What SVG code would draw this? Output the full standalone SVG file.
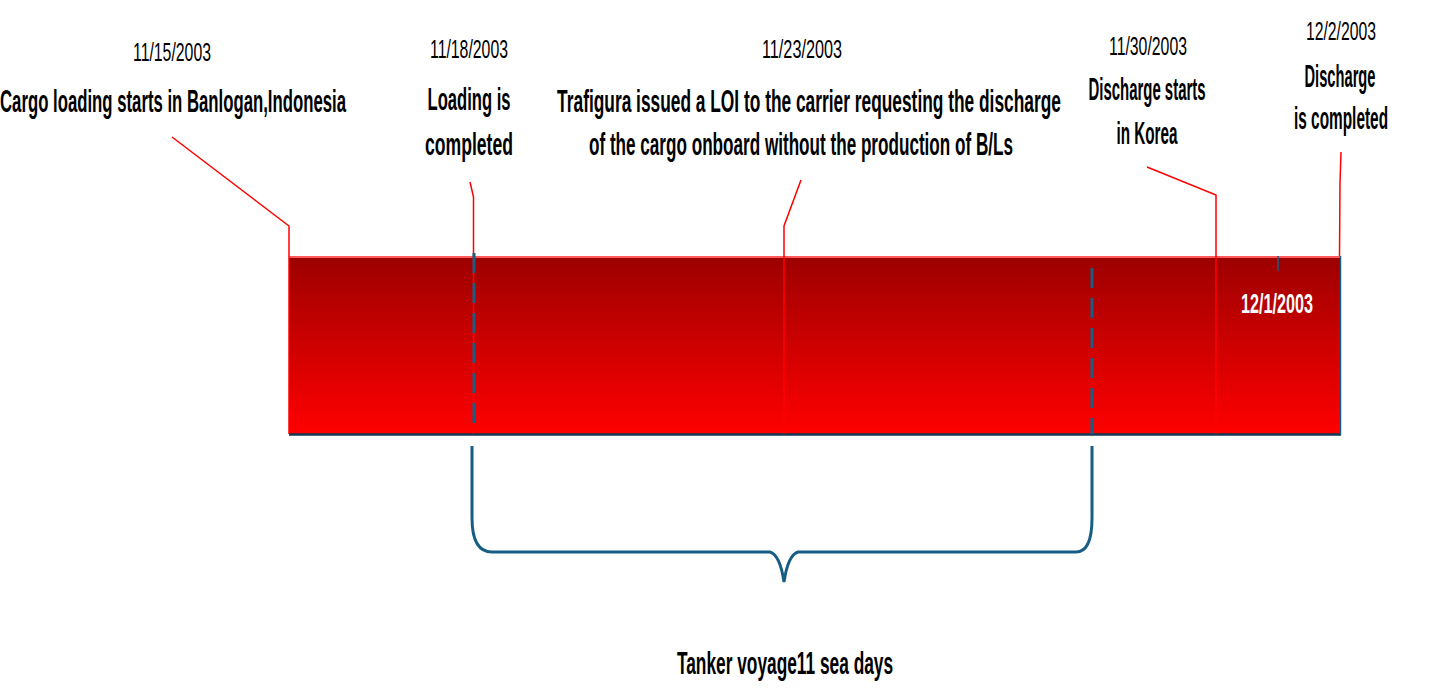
<svg xmlns="http://www.w3.org/2000/svg" width="1436" height="696" viewBox="0 0 1436 696">
<defs>
<linearGradient id="barGrad" x1="0" y1="0" x2="0" y2="1">
<stop offset="0" stop-color="#9c0000"/>
<stop offset="1" stop-color="#ff0000"/>
</linearGradient>
</defs>
<style>
.date{font-family:"Liberation Sans",Arial,sans-serif;font-size:26px;fill:#000;text-anchor:middle}
.lbl{font-family:"Liberation Sans",Arial,sans-serif;font-size:32px;font-weight:bold;fill:#000;text-anchor:middle}
.red{fill:none;stroke:#ff0000;stroke-width:1.5}
.dash{fill:none;stroke:#175e84;stroke-width:3;stroke-dasharray:20 10}
.brace{fill:none;stroke:#175e84;stroke-width:3}
</style>
<rect width="1436" height="696" fill="#fff"/>
<g id="bar">
<rect x="289" y="256" width="1051" height="178" fill="url(#barGrad)"/>
<line x1="289" y1="257" x2="1340" y2="257" stroke="#ff5a5a" stroke-width="2"/>
<line x1="289" y1="434.5" x2="1341" y2="434.5" stroke="#123a55" stroke-width="2.5"/>
<line x1="1340.5" y1="256" x2="1340.5" y2="435" stroke="#175e84" stroke-width="1.5"/>
<line x1="1278" y1="256" x2="1278" y2="271" stroke="#175e84" stroke-width="1.5"/>
<text transform="translate(1277,313) scale(0.6,1)" class="date" style="fill:#fff;font-weight:bold;font-size:27px" textLength="120" lengthAdjust="spacingAndGlyphs">12/1/2003</text>
</g>
<g id="connectors">
<polyline class="red" points="172,137 289,226 289,434"/>
<polyline class="red" points="470,182 473.5,197 473.5,434"/>
<polyline class="red" points="801,180 784,226 784,434"/>
<polyline class="red" points="1147,167 1216,195 1216,434"/>
<polyline class="red" points="1341,152 1340,183 1339.5,256"/>
<line class="dash" x1="474" y1="253" x2="474" y2="424"/>
<line class="dash" x1="1092" y1="268" x2="1092" y2="434"/>
<path class="brace" d="M472,446 L472,518 Q472,552 492,552 L770,552 Q780,555 784,582 Q788,555 798,552 L1076,552 Q1092,552 1092,518 L1092,446"/>
</g>
<g id="node-1115">
<text transform="translate(172,61) scale(0.62,1)" class="date" textLength="125.8" lengthAdjust="spacingAndGlyphs">11/15/2003</text>
<text transform="translate(173,112) scale(0.55,1)" class="lbl" textLength="629" lengthAdjust="spacingAndGlyphs">Cargo loading starts in Banlogan,Indonesia</text>
</g>
<g id="node-1118">
<text transform="translate(469,58) scale(0.62,1)" class="date" textLength="125.8" lengthAdjust="spacingAndGlyphs">11/18/2003</text>
<text transform="translate(469,110) scale(0.55,1)" class="lbl" textLength="151" lengthAdjust="spacingAndGlyphs">Loading is</text>
<text transform="translate(469,155) scale(0.55,1)" class="lbl" textLength="160" lengthAdjust="spacingAndGlyphs">completed</text>
</g>
<g id="node-1123">
<text transform="translate(802,58) scale(0.62,1)" class="date" textLength="129" lengthAdjust="spacingAndGlyphs">11/23/2003</text>
<text transform="translate(809,112) scale(0.55,1)" class="lbl" textLength="916" lengthAdjust="spacingAndGlyphs">Trafigura issued a LOI to the carrier requesting the discharge</text>
<text transform="translate(801,155) scale(0.55,1)" class="lbl" textLength="771" lengthAdjust="spacingAndGlyphs">of the cargo onboard without the production of B/Ls</text>
</g>
<g id="node-1130">
<text transform="translate(1148,55) scale(0.62,1)" class="date" textLength="125.8" lengthAdjust="spacingAndGlyphs">11/30/2003</text>
<text transform="translate(1147,100) scale(0.55,1)" class="lbl" textLength="213" lengthAdjust="spacingAndGlyphs">Discharge starts</text>
<text transform="translate(1147,144) scale(0.55,1)" class="lbl" textLength="111" lengthAdjust="spacingAndGlyphs">in Korea</text>
</g>
<g id="node-1202">
<text transform="translate(1341,40) scale(0.62,1)" class="date" textLength="113" lengthAdjust="spacingAndGlyphs">12/2/2003</text>
<text transform="translate(1340,87) scale(0.55,1)" class="lbl" textLength="129" lengthAdjust="spacingAndGlyphs">Discharge</text>
<text transform="translate(1341,129) scale(0.55,1)" class="lbl" textLength="171" lengthAdjust="spacingAndGlyphs">is completed</text>
</g>
<g id="node-voyage">
<text transform="translate(785,674) scale(0.55,1)" class="lbl" textLength="393" lengthAdjust="spacingAndGlyphs">Tanker voyage11 sea days</text>
</g>
</svg>
